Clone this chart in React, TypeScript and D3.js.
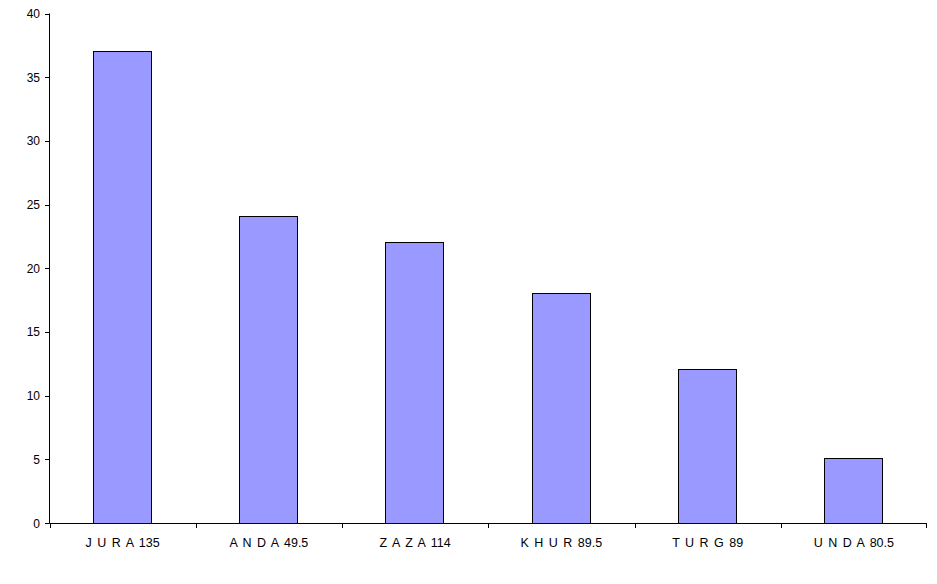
import React from "react";
import * as d3 from "d3";

const categories = ["J U R A 135", "A N D A 49.5", "Z A Z A 114", "K H U R 89.5", "T U R G 89", "U N D A 80.5"];
const values = [37, 24, 22, 18, 12, 5];
const yTicks = [0, 5, 10, 15, 20, 25, 30, 35, 40];

export default function App() {
  const W = 937, H = 584;
  const left = 49.5, right = 927, top = 13.5, bottom = 523;
  const x = d3.scaleBand<string>().domain(categories).range([left, right]).paddingInner(0).paddingOuter(0);
  const y = d3.scaleLinear().domain([0, 40]).range([bottom, top]);
  const bw = x.bandwidth() * 0.4;
  const font = "'Liberation Sans', Arial, sans-serif";
  return (
    <svg width={W} height={H} style={{ position: "absolute", left: 0, top: 0, background: "#fff" }}>
      {categories.map((c, i) => {
        const cx = (x(c) as number) + x.bandwidth() / 2;
        const y0 = Math.round(y(values[i])) - 0.5;
        return (
          <rect key={c} x={Math.floor(cx - bw / 2) + 0.5} y={y0} width={Math.round(bw) - 1} height={bottom - y0 + 0.5}
            fill="#9999FF" stroke="#000" strokeWidth={1} />
        );
      })}
      <line x1={left} x2={left} y1={top} y2={bottom + 0.5} stroke="#000" />
      <line x1={left} x2={right} y1={bottom + 0.5} y2={bottom + 0.5} stroke="#000" />
      {yTicks.map(t => (
        <g key={t}>
          <line x1={45} x2={left} y1={Math.round(y(t)) + 0.5} y2={Math.round(y(t)) + 0.5} stroke="#000" />
          <text x={40} y={y(t) + 4.5} textAnchor="end" fontFamily={font} fontSize={12} fill="#000">{t}</text>
        </g>
      ))}
      {categories.map((c, i) => (
        <line key={"t" + i} x1={Math.round((x(c) as number)) + 0.5} x2={Math.round((x(c) as number)) + 0.5} y1={bottom} y2={bottom + 5} stroke="#000" />
      ))}
      <line x1={right - 0.5} x2={right - 0.5} y1={bottom} y2={bottom + 5} stroke="#000" />
      {categories.map(c => (
        <text key={"l" + c} x={(x(c) as number) + x.bandwidth() / 2} y={547} textAnchor="middle"
          fontFamily={font} fontSize={12.5} style={{ wordSpacing: "2px" }} fill="#000">{c}</text>
      ))}
    </svg>
  );
}
